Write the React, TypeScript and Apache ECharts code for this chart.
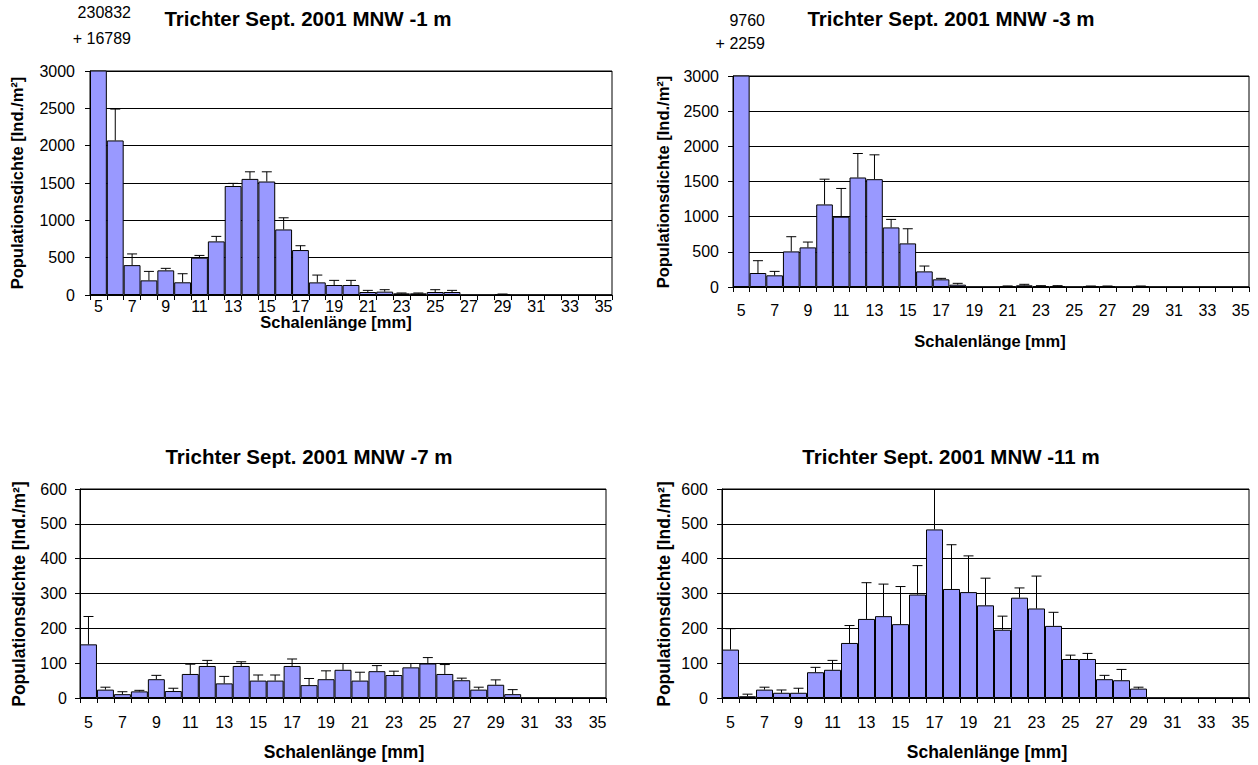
import React, { useEffect, useRef } from "react";
import * as echarts from "echarts";

const sizes = ["5","6","7","8","9","10","11","12","13","14","15","16","17","18","19","20","21","22","23","24","25","26","27","28","29","30","31","32","33","34","35"];

const m1Values = [230832, 2070, 400, 196, 330, 170, 500, 718, 1460, 1555, 1520, 878, 602, 169, 134, 134, 40, 45, 22, 22, 40, 40, 0, 0, 8, 0, 0, 0, 0, 0, 0];
const m1Errors = [16789, 420, 150, 120, 27, 115, 30, 67, 35, 95, 130, 156, 58, 98, 62, 62, 22, 26, 5, 5, 31, 22, 0, 0, 5, 0, 0, 0, 0, 0, 0];

const m3Values = [9760, 199, 166, 506, 563, 1174, 999, 1557, 1533, 847, 620, 222, 109, 33, 0, 0, 9, 24, 14, 14, 0, 9, 9, 0, 9, 0, 0, 0, 0, 0, 0];
const m3Errors = [2259, 175, 56, 209, 76, 359, 402, 341, 346, 114, 208, 76, 14, 19, 0, 0, 6, 14, 5, 5, 0, 5, 5, 0, 5, 0, 0, 0, 0, 0, 0];

const m7Values = [154, 24, 11, 19, 54, 20, 69, 92, 42, 92, 50, 50, 92, 37, 54, 81, 50, 77, 66, 88, 99, 69, 51, 24, 38, 11, 0, 0, 0, 0, 0];
const m7Errors = [80, 7, 7, 3, 11, 8, 28, 16, 20, 12, 16, 16, 20, 19, 24, 18, 24, 16, 11, 11, 17, 27, 6, 7, 14, 13, 0, 0, 0, 0, 0];

const m11Values = [139, 5, 24, 15, 15, 74, 81, 158, 227, 235, 212, 297, 484, 313, 304, 266, 196, 288, 257, 207, 112, 112, 54, 51, 27, 0, 0, 0, 0, 0, 0];
const m11Errors = [60, 6, 7, 8, 13, 14, 27, 50, 104, 92, 108, 83, 123, 127, 104, 78, 39, 28, 93, 39, 11, 16, 11, 31, 4, 0, 0, 0, 0, 0, 0];

const panelTitles = [
  "Trichter Sept. 2001 MNW -1 m",
  "Trichter Sept. 2001 MNW -3 m",
  "Trichter Sept. 2001 MNW -7 m",
  "Trichter Sept. 2001 MNW -11 m",
];
const yAxisName = "Populationsdichte [Ind./m²]";
const xAxisName = "Schalenlänge [mm]";
const offScaleNotes = [
  ["230832", "+ 16789"],
  ["9760", "+ 2259"],
];

const FONT = '"Liberation Sans", Arial, Helvetica, sans-serif';

type Panel = {
  values: number[];
  errors: number[];
  max: number;
  interval: number;
  grid: { left: number; top: number; width: number; height: number };
  labelMargin: number;
  yLabelMargin: number;
  nameSize: number;
};

const panels: Panel[] = [
  { values: m1Values, errors: m1Errors, max: 3000, interval: 500, grid: { left: 90, top: 71, width: 522, height: 224 }, labelMargin: 3, yLabelMargin: 15, nameSize: 16.5 },
  { values: m3Values, errors: m3Errors, max: 3000, interval: 500, grid: { left: 733, top: 76, width: 516, height: 211 }, labelMargin: 15, yLabelMargin: 14, nameSize: 16.5 },
  { values: m7Values, errors: m7Errors, max: 600, interval: 100, grid: { left: 80, top: 489, width: 526, height: 209 }, labelMargin: 16, yLabelMargin: 13, nameSize: 17.5 },
  { values: m11Values, errors: m11Errors, max: 600, interval: 100, grid: { left: 722, top: 489, width: 527, height: 209 }, labelMargin: 16, yLabelMargin: 14, nameSize: 17.5 },
];

export default function App() {
  const ref = useRef<HTMLDivElement>(null);

  useEffect(() => {
    if (!ref.current) return;
    const chart = echarts.init(ref.current, undefined, { renderer: "svg" });

    const grids = panels.map((p) => ({
      left: p.grid.left,
      top: p.grid.top,
      width: p.grid.width,
      height: p.grid.height,
      show: true,
      borderColor: "#000",
      borderWidth: 1,
      backgroundColor: "transparent",
    }));

    const xAxes = panels.map((p, i) => ({
      type: "category",
      gridIndex: i,
      data: sizes,
      boundaryGap: true,
      axisLine: { show: true, lineStyle: { color: "#000", width: 1 } },
      axisTick: { show: true, alignWithLabel: false, interval: 0, length: 5, lineStyle: { color: "#000" } },
      axisLabel: { interval: 1, color: "#000", fontSize: 16, fontFamily: FONT, margin: p.labelMargin },
      splitLine: { show: false },
    }));

    const yAxes = panels.map((p, i) => ({
      type: "value",
      gridIndex: i,
      min: 0,
      max: p.max,
      interval: p.interval,
      axisLine: { show: true, lineStyle: { color: "#000", width: 1 } },
      axisTick: { show: true, length: 5, lineStyle: { color: "#000" } },
      axisLabel: {
        color: "#000",
        fontSize: 16,
        fontFamily: FONT,
        margin: p.yLabelMargin,
        formatter: (v: number) => String(v),
      },
      splitLine: { show: true, lineStyle: { color: "#000", width: 1 } },
    }));

    const series: any[] = [];
    panels.forEach((p, i) => {
      series.push({
        type: "bar",
        xAxisIndex: i,
        yAxisIndex: i,
        data: p.values,
        barCategoryGap: "0%",
        barGap: "0%",
        clip: true,
        itemStyle: { color: "#9999FF", borderColor: "#000", borderWidth: 1 },
        z: 2,
      });
      const errData = p.values
        .map((v, k) => [k, v, v + p.errors[k]])
        .filter((d, k) => p.errors[k] > 0 && p.values[k] < p.max);
      series.push({
        type: "custom",
        xAxisIndex: i,
        yAxisIndex: i,
        data: errData,
        clip: true,
        z: 3,
        renderItem: (params: any, api: any) => {
          const x = api.value(0);
          const p0 = api.coord([x, api.value(1)]);
          const p1 = api.coord([x, api.value(2)]);
          const hw = 5;
          return {
            type: "group",
            children: [
              { type: "line", shape: { x1: p0[0], y1: p0[1], x2: p1[0], y2: p1[1] }, style: { stroke: "#000", lineWidth: 1 } },
              { type: "line", shape: { x1: p1[0] - hw, y1: p1[1], x2: p1[0] + hw, y2: p1[1] }, style: { stroke: "#000", lineWidth: 1 } },
            ],
          };
        },
      });
    });

    const titlePos = [
      [308, 18],
      [951, 18],
      [309, 456],
      [951, 456],
    ];
    const yNamePos = [
      [17, 183],
      [663, 182],
      [19, 594],
      [664, 594],
    ];
    const xNamePos = [
      [336, 322],
      [990, 341],
      [344, 752],
      [987, 752],
    ];

    const graphics: any[] = [];
    panelTitles.forEach((t, i) => {
      graphics.push({
        type: "text",
        x: titlePos[i][0],
        y: titlePos[i][1],
        style: { text: t, font: `bold 20.5px ${FONT}`, fill: "#000", align: "center", verticalAlign: "middle" },
      });
      graphics.push({
        type: "text",
        x: yNamePos[i][0],
        y: yNamePos[i][1],
        rotation: Math.PI / 2,
        style: { text: yAxisName, font: `bold ${panels[i].nameSize}px ${FONT}`, fill: "#000", align: "center", verticalAlign: "middle" },
      });
      graphics.push({
        type: "text",
        x: xNamePos[i][0],
        y: xNamePos[i][1],
        style: { text: xAxisName, font: `bold ${panels[i].nameSize}px ${FONT}`, fill: "#000", align: "center", verticalAlign: "middle" },
      });
    });
    const notePos = [
      [131, 12, 38],
      [765, 20, 43],
    ];
    offScaleNotes.forEach((n, i) => {
      n.forEach((line, j) => {
        graphics.push({
          type: "text",
          x: notePos[i][0],
          y: notePos[i][1 + j],
          style: { text: line, font: `16px ${FONT}`, fill: "#000", align: "right", verticalAlign: "middle" },
        });
      });
    });

    chart.setOption({
      animation: false,
      backgroundColor: "#fff",
      grid: grids,
      xAxis: xAxes,
      yAxis: yAxes,
      series,
      graphic: graphics,
    });

    return () => chart.dispose();
  }, []);

  return (
    <div
      ref={ref}
      style={{ position: "fixed", left: 0, top: 0, width: 1258, height: 765, background: "#fff" }}
    />
  );
}
